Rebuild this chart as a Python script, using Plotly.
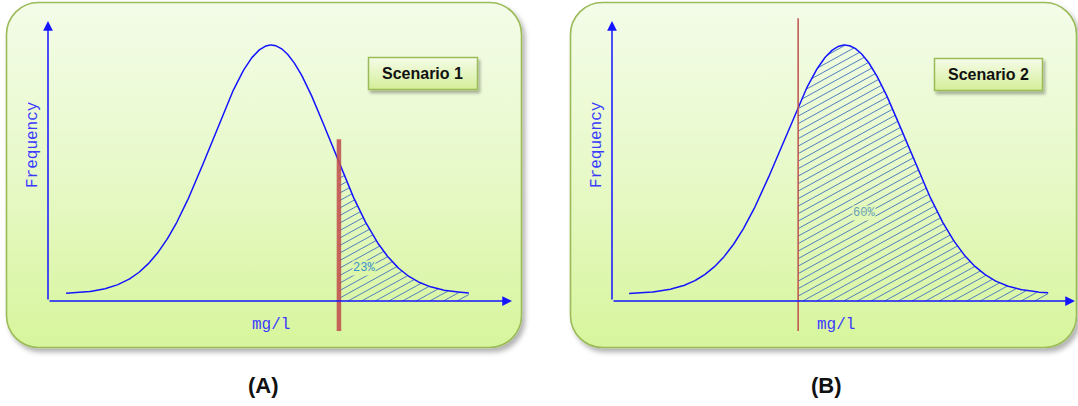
import base64
import numpy as np
import plotly.graph_objects as go

W, H = 1078, 406

# --- distribution data for the two scenarios (x in mg/l, y in frequency units) ---
scenario_names = ["Scenario 1", "Scenario 2"]
panel_tags = ["(A)", "(B)"]
mean_mgl = [4.81, 5.03]
sd_mgl = [1.29, 1.34]
threshold_mgl = [6.27, 4.02]
curve_from = [0.39, 0.37]
curve_to = [9.07, 9.42]
tail_labels = ["23%", "60%"]
peak_freq = 8.89
floor_freq = 0.25

# --- pixel geometry of each panel (origin of the axes, scale, plot window) ---
origin_px = [(48, 301), (612, 301)]
axis_tip_px = [512, 1075]
px_per_x = [46.4, 46.3]
px_per_y = 28.0
window_px = [(20, 530), (575, 1078)]
win_top, win_bot = 8, 345

BLUE = "#1414ff"
HATCH = "#4f81bd"
MONO = "Liberation Mono, Courier New, monospace"
SANS = "Liberation Sans, Arial, sans-serif"


def freq(x, i):
    return floor_freq + peak_freq * np.exp(-0.5 * ((x - mean_mgl[i]) / sd_mgl[i]) ** 2)


def hatch(i, slope=0.55, gap=7.5):
    """Diagonal hatch lines filling the area under the curve right of the threshold."""
    sx, sy = px_per_x[i], px_per_y
    xs = np.linspace(threshold_mgl[i], curve_to[i], 4000)
    X = xs * sx
    top = freq(xs, i) * sy
    cmin = np.floor((-slope * X.max()) / gap) * gap
    cmax = top.max() - slope * X.min()
    hx, hy = [], []
    for c in np.arange(cmin, cmax + gap, gap):
        Yl = slope * X + c
        m = (Yl >= 0) & (Yl <= top)
        edges = np.flatnonzero(np.diff(np.r_[0, m.astype(int), 0]))
        for a, b in zip(edges[::2], edges[1::2]):
            if b - 1 > a:
                hx += [xs[a], xs[b - 1], None]
                hy += [Yl[a] / sy, Yl[b - 1] / sy, None]
    return hx, hy


def label(x_px, y_px, text, **kw):
    return dict(xref="paper", yref="paper", x=x_px / W, y=1 - y_px / H, text=text,
                showarrow=False, xanchor="center", yanchor="middle", **kw)


fig = go.Figure()
layout_axes = {}
annotations = []
shapes = []

for i in range(2):
    n = "" if i == 0 else "2"
    xr, yr = "x" + n, "y" + n
    ox, oy = origin_px[i]
    left, right = window_px[i]
    layout_axes["xaxis" + n] = dict(
        domain=[left / W, right / W],
        range=[(left - ox) / px_per_x[i], (right - ox) / px_per_x[i]],
        visible=False, fixedrange=True, anchor=yr,
    )
    layout_axes["yaxis" + n] = dict(
        domain=[1 - win_bot / H, 1 - win_top / H],
        range=[(oy - win_bot) / px_per_y, (oy - win_top) / px_per_y],
        visible=False, fixedrange=True, anchor=xr,
    )

    hx, hy = hatch(i)
    fig.add_trace(go.Scatter(x=hx, y=hy, mode="lines", xaxis=xr, yaxis=yr,
                             line=dict(color=HATCH, width=1), hoverinfo="skip"))

    xs = np.linspace(curve_from[i], curve_to[i], 600)
    fig.add_trace(go.Scatter(x=xs, y=freq(xs, i), mode="lines", xaxis=xr, yaxis=yr,
                             line=dict(color=BLUE, width=1.5), hoverinfo="skip"))

    # threshold line
    if i == 0:
        shapes.append(dict(type="line", xref=xr, yref=yr, x0=threshold_mgl[i], x1=threshold_mgl[i],
                           y0=-1.07, y1=5.78, line=dict(color="rgba(192,80,77,0.88)", width=4.5)))
    else:
        shapes.append(dict(type="line", xref=xr, yref=yr, x0=threshold_mgl[i], x1=threshold_mgl[i],
                           y0=-1.07, y1=10.1, line=dict(color="#c0504d", width=1.5)))

    # axes with arrow heads
    annotations.append(dict(xref=xr, yref=yr, axref=xr, ayref=yr,
                            x=(axis_tip_px[i] - ox) / px_per_x[i], y=0, ax=0, ay=0,
                            showarrow=True, arrowhead=2, arrowsize=1.3,
                            arrowwidth=1.5, arrowcolor=BLUE, text=""))
    annotations.append(dict(xref=xr, yref=yr, axref=xr, ayref=yr, x=0, y=(oy - 21) / px_per_y,
                            ax=0, ay=0, showarrow=True, arrowhead=2, arrowsize=1.3,
                            arrowwidth=1.5, arrowcolor=BLUE, text=""))

    # axis titles
    annotations.append(label(ox - 15, 145, "Frequency", textangle=-90,
                             font=dict(family=MONO, size=16, color="#3a3aff")))
    annotations.append(label([271, 836][i], 325, "mg/l",
                             font=dict(family=MONO, size=16, color="#3a3aff")))

    # share of the distribution above the threshold
    annotations.append(label([364, 864][i], [268, 213][i], tail_labels[i],
                             bgcolor=["#dcf6aa", "#e1f8b8"][i], borderpad=0,
                             font=dict(family=MONO, size=12, color=["#3b8fd0", "#6aa0b8"][i])))

    # scenario badge text
    annotations.append(label([422.5, 988.5][i], [73.5, 74.5][i], "<b>%s</b>" % scenario_names[i],
                             font=dict(family=SANS, size=16, color="#111111")))

    # panel tag below
    annotations.append(label([263, 826][i], 385, "<b>%s</b>" % panel_tags[i],
                             font=dict(family=SANS, size=22, color="#111111")))

# rounded gradient panels and badges drawn as a background image
svg = f'''<svg xmlns="http://www.w3.org/2000/svg" width="{W}" height="{H}" viewBox="0 0 {W} {H}">
<defs>
<linearGradient id="pg" x1="0" y1="0" x2="0" y2="1">
<stop offset="0" stop-color="#f3fce9"/><stop offset="0.5" stop-color="#e7f9c8"/><stop offset="1" stop-color="#d7f59c"/>
</linearGradient>
<linearGradient id="bg" x1="0" y1="0" x2="0" y2="1">
<stop offset="0" stop-color="#f6fce9"/><stop offset="1" stop-color="#d3ee98"/>
</linearGradient>
<filter id="sh" x="-5%" y="-5%" width="112%" height="115%">
<feDropShadow dx="3" dy="4" stdDeviation="2.5" flood-color="#000" flood-opacity="0.30"/>
</filter>
<filter id="sh2" x="-10%" y="-20%" width="125%" height="150%">
<feDropShadow dx="2" dy="3" stdDeviation="1.5" flood-color="#000" flood-opacity="0.30"/>
</filter>
</defs>
<rect x="6.5" y="2.5" width="515" height="345" rx="32" ry="32" fill="url(#pg)" stroke="#9bbb59" stroke-width="1.6" filter="url(#sh)"/>
<rect x="570.5" y="2.5" width="506" height="345" rx="32" ry="32" fill="url(#pg)" stroke="#9bbb59" stroke-width="1.6" filter="url(#sh)"/>
<rect x="368.5" y="57.5" width="109" height="32" fill="url(#bg)" stroke="#9bbb59" stroke-width="1.5" filter="url(#sh2)"/>
<rect x="934.5" y="58.5" width="108" height="32" fill="url(#bg)" stroke="#9bbb59" stroke-width="1.5" filter="url(#sh2)"/>
</svg>'''
src = "data:image/svg+xml;base64," + base64.b64encode(svg.encode()).decode()

fig.update_layout(
    width=W, height=H, margin=dict(l=0, r=0, t=0, b=0),
    paper_bgcolor="white", plot_bgcolor="rgba(0,0,0,0)",
    showlegend=False, hovermode=False,
    images=[dict(source=src, xref="paper", yref="paper", x=0, y=1, sizex=1, sizey=1,
                 xanchor="left", yanchor="top", sizing="stretch", layer="below")],
    shapes=shapes, annotations=annotations,
    **layout_axes,
)

fig.write_html("out.html", config={"displayModeBar": False})
